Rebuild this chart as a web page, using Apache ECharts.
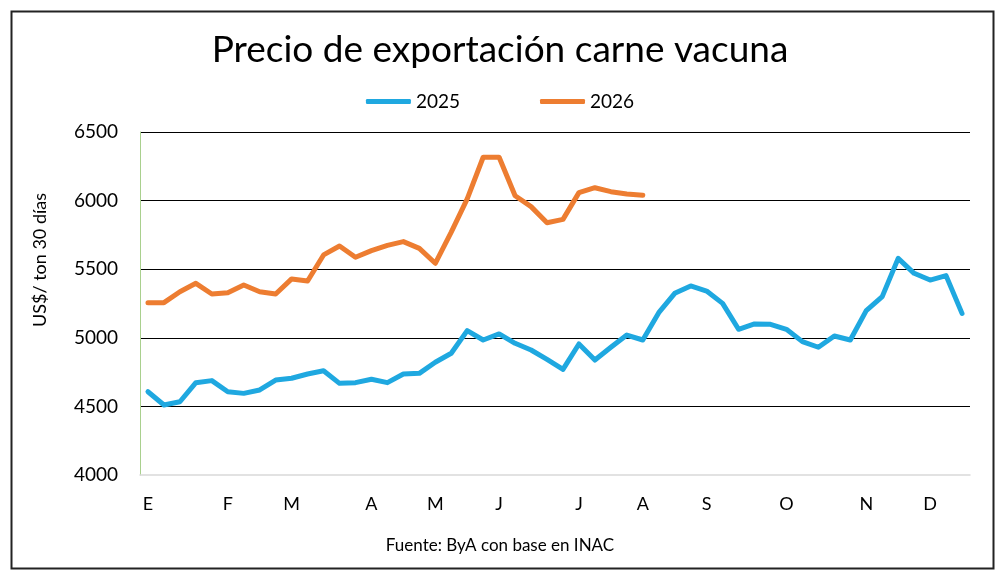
<!DOCTYPE html>
<html lang="es">

<head>
    <meta charset="UTF-8">
    <script src="https://cdn.jsdelivr.net/npm/echarts@6.0.0/dist/echarts.min.js"></script>
    <title>Precio de exportación carne vacuna</title>
    <style>
        html, body { margin: 0; padding: 0; background: #fff; }
        #chart { width: 1000px; height: 575px; }
    </style>
</head>

<body>
    <div id="chart"></div>

    <script type="text/javascript">
        // semanas del año (52)
        var semanas = [];
        for (var i = 1; i <= 52; i++) semanas.push(String(i));

        // posición de la etiqueta de cada mes (índice de semana) y letra
        var mesIndice = [0, 5, 9, 14, 18, 22, 27, 31, 35, 40, 45, 49];
        var mesLetra = ['E', 'F', 'M', 'A', 'M', 'J', 'J', 'A', 'S', 'O', 'N', 'D'];

        var precios2025 = [
            4607, 4510, 4534, 4673, 4688, 4607, 4595, 4620, 4692, 4705,
            4736, 4760, 4668, 4673, 4698, 4673, 4736, 4741, 4822, 4887,
            5052, 4984, 5028, 4960, 4911, 4843, 4770, 4955, 4838, 4931,
            5020, 4984, 5183, 5324, 5378, 5341, 5251, 5062, 5101, 5098,
            5062, 4972, 4931, 5013, 4984, 5198, 5300, 5579, 5470, 5421,
            5453, 5178
        ];

        var precios2026 = [
            5256, 5256, 5336, 5397, 5319, 5329, 5385, 5336, 5319, 5429,
            5414, 5604, 5669, 5587, 5635, 5674, 5701, 5652, 5543, 5770,
            6012, 6316, 6316, 6035, 5956, 5839, 5863, 6058, 6094, 6065,
            6048, 6039
        ];

        var chart = echarts.init(document.getElementById('chart'));

        var fuente = 'Lato, "Open Sans", sans-serif';

        var option = {
            animation: false,
            textStyle: { fontFamily: fuente },
            title: {
                text: 'Precio de exportación carne vacuna',
                left: 'center',
                top: 27,
                textStyle: { fontFamily: fuente, fontSize: 37, fontWeight: 'normal', color: '#000' }
            },
            legend: {
                top: 87,
                left: 'center',
                icon: 'roundRect',
                itemWidth: 45,
                itemHeight: 5,
                itemGap: 80,
                textStyle: { fontFamily: fuente, fontSize: 19, color: '#000' },
                data: ['2025', '2026']
            },
            grid: {
                left: 140,
                right: 30,
                top: 132,
                bottom: 100
            },
            xAxis: {
                type: 'category',
                data: semanas,
                boundaryGap: true,
                axisLine: { lineStyle: { color: '#d9d9d9', width: 1.5 } },
                axisTick: { show: false },
                axisLabel: {
                    interval: function (index) { return mesIndice.indexOf(index) >= 0; },
                    formatter: function (value, index) {
                        var k = mesIndice.indexOf(index);
                        return k >= 0 ? mesLetra[k] : '';
                    },
                    margin: 20,
                    fontSize: 18,
                    color: '#000'
                }
            },
            yAxis: {
                type: 'value',
                min: 4000,
                max: 6500,
                interval: 500,
                axisLine: { show: true, lineStyle: { color: '#a9d08e', width: 1 } },
                axisTick: { show: false },
                axisLabel: {
                    margin: 22,
                    fontSize: 19,
                    color: '#000',
                    formatter: function (v) { return String(v); }
                },
                splitLine: {
                    lineStyle: { color: '#000', width: 1 },
                    showMinLine: false
                }
            },
            graphic: [
                {
                    type: 'rect',
                    left: 9,
                    top: 9,
                    shape: { width: 982, height: 557 },
                    style: { fill: 'none', stroke: '#222', lineWidth: 2 },
                    silent: true
                },
                {
                    type: 'text',
                    x: 40,
                    y: 260,
                    rotation: Math.PI / 2,
                    style: {
                        text: 'US$/ ton 30 días',
                        font: '18px ' + fuente,
                        fill: '#000',
                        align: 'center',
                        verticalAlign: 'middle'
                    }
                },
                {
                    type: 'text',
                    left: 'center',
                    top: 537,
                    style: {
                        text: 'Fuente: ByA con base en INAC',
                        font: '17px ' + fuente,
                        fill: '#000'
                    }
                }
            ],
            series: [
                {
                    name: '2025',
                    type: 'line',
                    data: precios2025,
                    symbol: 'none',
                    lineStyle: { color: '#1fa8e0', width: 5, cap: 'round', join: 'round' },
                    itemStyle: { color: '#1fa8e0' }
                },
                {
                    name: '2026',
                    type: 'line',
                    data: precios2026,
                    symbol: 'none',
                    lineStyle: { color: '#ed7d31', width: 5, cap: 'round', join: 'round' },
                    itemStyle: { color: '#ed7d31' }
                }
            ]
        };

        chart.setOption(option);
    </script>
</body>

</html>
